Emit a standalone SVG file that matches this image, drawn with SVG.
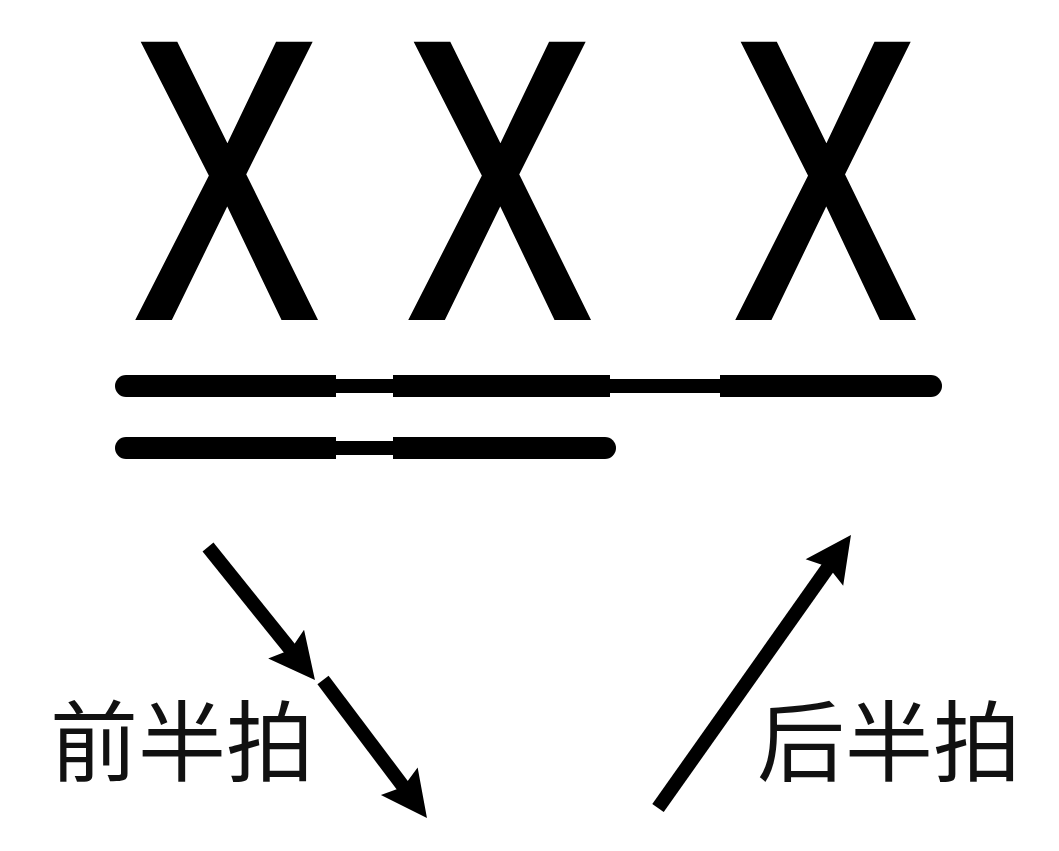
<svg xmlns="http://www.w3.org/2000/svg" width="1059" height="851" viewBox="0 0 1059 851">
  <style>
    .x { font-family: "Liberation Sans", Arial, sans-serif; font-size: 390px; fill: #000; stroke: #000; stroke-width: 10; stroke-linejoin: miter; }
    .lbl { font-family: "Noto Sans CJK SC", "Noto Sans", sans-serif; font-size: 88px; fill: #111; }
    .thick { stroke: #000; stroke-width: 22; stroke-linecap: butt; fill: none; }
    .thin { stroke: #000; stroke-width: 14; fill: none; }
    .cap { fill: #000; }
    .arr { stroke: #000; stroke-width: 14; fill: none; marker-end: url(#head); }
  </style>
  <defs>
    <marker id="head" markerUnits="userSpaceOnUse" markerWidth="50" markerHeight="50" viewBox="0 0 50 50" refX="20" refY="25" orient="auto">
      <path d="M2,2 L48,25 L2,48 L9,25 Z" fill="#000"/>
    </marker>
  </defs>
  <rect width="1059" height="851" fill="#fff"/>

  <g id="note1"><text class="x" x="136" y="315" textLength="181" lengthAdjust="spacingAndGlyphs">X</text></g>
  <g id="note2"><text class="x" x="409" y="315" textLength="181" lengthAdjust="spacingAndGlyphs">X</text></g>
  <g id="note3"><text class="x" x="736" y="315" textLength="179" lengthAdjust="spacingAndGlyphs">X</text></g>

  <g id="beam-top">
    <line class="thin" x1="330" y1="386" x2="400" y2="386"/>
    <line class="thin" x1="600" y1="386" x2="730" y2="386"/>
    <line class="thick" x1="126" y1="386" x2="336" y2="386"/>
    <circle class="cap" cx="126" cy="386" r="11"/>
    <line class="thick" x1="393" y1="386" x2="610" y2="386"/>
    <line class="thick" x1="720" y1="386" x2="931" y2="386"/>
    <circle class="cap" cx="931" cy="386" r="11"/>
  </g>
  <g id="beam-bottom">
    <line class="thin" x1="330" y1="448" x2="400" y2="448"/>
    <line class="thick" x1="126" y1="448" x2="336" y2="448"/>
    <circle class="cap" cx="126" cy="448" r="11"/>
    <line class="thick" x1="393" y1="448" x2="605" y2="448"/>
    <circle class="cap" cx="605" cy="448" r="11"/>
  </g>

  <g id="connectors">
    <line class="arr" x1="208" y1="547" x2="297.4" y2="658.2"/>
    <line class="arr" x1="323" y1="680" x2="410.1" y2="795.6"/>
    <line class="arr" x1="658" y1="808" x2="834.8" y2="557.9"/>
  </g>

  <g id="label-front"><text class="lbl" x="50" y="774">前半拍</text></g>
  <g id="label-back"><text class="lbl" x="757" y="774">后半拍</text></g>
</svg>
